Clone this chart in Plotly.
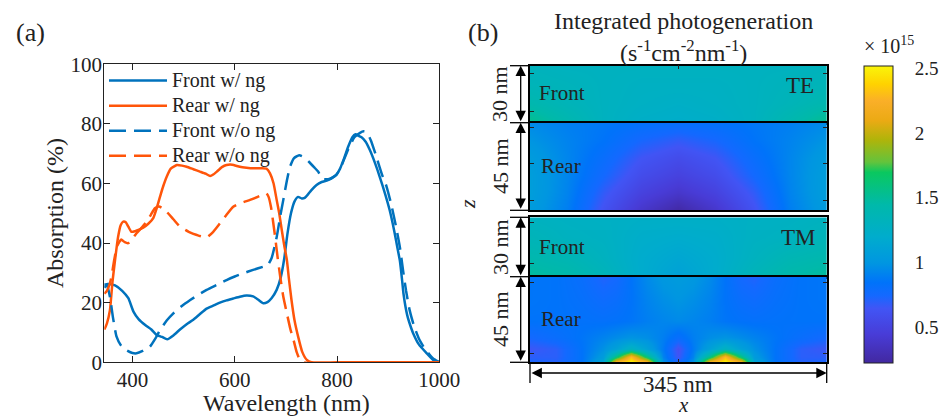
import plotly.graph_objects as go

W, H = 941, 417
def px(x): return x / W
def py(y): return 1 - y / H

FONT = "Liberation Serif"
INK = "#222222"
BLUE = "rgb(0,114,189)"
ORANGE = "rgb(255,85,10)"

# ---------------- Panel (a) data ----------------
front_ng_wl = [345, 352, 366, 380, 392, 402, 412, 425, 437, 447, 458, 468, 480, 493, 506, 519, 532, 545, 558,
               571, 584, 597, 610, 623, 636, 646, 656, 664, 672, 682, 690, 697, 703, 710, 717, 724, 731, 737,
               744, 750, 760, 770, 780, 790, 799, 806, 814, 822, 830, 836, 842, 848, 856, 864, 874, 884, 894,
               903, 912, 918, 923, 927, 930, 937, 945, 949, 960, 975, 988, 1000]
front_ng_abs = [26, 26.3, 25.8, 24, 21.5, 17, 14.5, 12.5, 11, 9.2, 8.5, 7.7, 9, 11, 12.8, 14.3, 16.2, 18, 19,
                20, 20.8, 21.4, 22, 22.4, 22.1, 21, 19.8, 20.2, 21.5, 24.3, 28.5, 35, 43, 50, 54, 55.5, 55, 55.2,
                56.5, 57.8, 59.5, 60.5, 61, 61.8, 63, 65, 68.5, 72.4, 75.5, 76.5, 76, 75.5, 74, 71.3, 67, 62, 56.5,
                51, 44, 38.5, 34, 28, 23, 16, 11.5, 9.7, 6, 3.1, 0.8, 0]

rear_ng_wl = [345, 350, 356, 361, 366, 372, 377, 382, 387, 392, 398, 405, 413, 421, 431, 441, 448, 454, 460,
              467, 475, 487, 497, 506, 519, 532, 543, 552, 558, 565, 575, 584, 595, 610, 623, 636, 650, 662,
              669, 676, 682, 687, 692, 697, 702, 706, 711, 717, 724, 732, 741, 750, 800, 900, 1000]
rear_ng_abs = [11, 13, 17.5, 27, 34.3, 42.1, 46, 47.2, 47, 45.5, 43.8, 44, 44.5, 45.2, 46.5, 48.5, 52, 55.6, 59,
               62.3, 65, 66.2, 66, 65.6, 64.8, 64, 63.3, 62.5, 63, 64, 65.5, 66.2, 66.3, 65.6, 65.3, 65.1, 65.1, 65,
               63.4, 60, 54.5, 50, 44.4, 39, 34.3, 28, 20.9, 14, 8.6, 3.5, 0.8, 0, 0, 0, 0]

front_wo_wl = [345, 350, 356, 362, 369, 378, 389, 400, 408, 420, 434, 445, 454, 467, 480, 496, 513, 530, 545,
               565, 584, 600, 617, 636, 656, 664, 672, 682, 689, 695, 702, 708, 716, 726, 734, 745, 755, 763,
               772, 785, 799, 810, 822, 834, 845, 852, 858, 866, 876, 888, 897, 906, 916, 923, 929, 935, 942,
               950, 960, 970, 980, 990, 1000]
front_wo_abs = [25, 26, 22, 15, 8.6, 5.5, 4, 3.1, 3, 3.8, 5.2, 8, 10.8, 14, 16.4, 18.8, 20.9, 22.8, 24.3,
                26, 27.6, 28.8, 29.9, 31, 32.1, 32.5, 34.9, 42, 49, 54.5, 61, 65.6, 68.5, 69.5, 69, 67.3, 65.5, 64,
                61.5, 61.5, 63, 66.5, 71.5, 75.5, 77, 77.5, 77.2, 74.5, 69.5, 63, 58.9, 53, 45, 38.5, 31, 24, 17.5,
                12.5, 8, 5, 2.8, 1, 0.1]

rear_wo_wl = [345, 350, 355, 359, 364, 370, 378, 385, 392, 400, 408, 418, 428, 436, 444, 452, 460, 467, 480,
              493, 510, 526, 545, 558, 571, 584, 597, 613, 630, 646, 656, 662, 666, 671, 679, 684, 689, 695,
              702, 709, 715, 721, 727, 735, 1000]
rear_wo_abs = [23, 24, 26, 28.7, 34, 39, 41.2, 40.3, 40, 41.5, 43.3, 45.2, 47.2, 49.5, 51.7, 52.3, 51.6, 50.5, 48,
               45.5, 43.8, 42.7, 41.9, 43.8, 46.6, 49.5, 52.2, 53.5, 54.5, 55.6, 56.4, 56.7, 55.6, 52, 42.1, 35,
               28.7, 22, 16.4, 11, 7.5, 3.5, 1, 0, 0]

wl_ticks = [400, 600, 800, 1000]
abs_ticks = [0, 20, 40, 60, 80, 100]
series_names = ["Front w/ ng", "Rear w/ ng", "Front w/o ng", "Rear w/o ng"]

# ---------------- Panel (b) data (x 1e15 s^-1 cm^-2 nm^-1) ----------------
grid_x = [0, 43.1, 86.3, 129.4, 172.5, 215.6, 258.8, 301.9, 345]
front_y = [45, 55, 65, 75]
rear_y = [0, 9, 18, 27, 36, 45]

te_front = [
    [1.55, 1.42, 1.30, 1.24, 1.22, 1.24, 1.30, 1.42, 1.55],
    [1.42, 1.35, 1.30, 1.27, 1.25, 1.27, 1.30, 1.35, 1.42],
    [1.35, 1.33, 1.30, 1.28, 1.28, 1.28, 1.30, 1.33, 1.35],
    [1.32, 1.30, 1.30, 1.30, 1.30, 1.30, 1.30, 1.30, 1.32],
]
te_rear = [
    [1.05, 0.90, 0.62, 0.40, 0.25, 0.40, 0.62, 0.90, 1.05],
    [1.07, 0.92, 0.68, 0.50, 0.40, 0.50, 0.68, 0.92, 1.07],
    [1.07, 0.93, 0.75, 0.58, 0.50, 0.58, 0.75, 0.93, 1.07],
    [1.05, 0.93, 0.80, 0.65, 0.58, 0.65, 0.80, 0.93, 1.05],
    [1.00, 0.92, 0.85, 0.74, 0.68, 0.74, 0.85, 0.92, 1.00],
    [0.95, 0.90, 0.87, 0.84, 0.82, 0.84, 0.87, 0.90, 0.95],
]
tm_front = [
    [1.50, 1.45, 1.35, 1.20, 1.10, 1.20, 1.35, 1.45, 1.50],
    [1.42, 1.38, 1.30, 1.20, 1.15, 1.20, 1.30, 1.38, 1.42],
    [1.35, 1.30, 1.28, 1.22, 1.20, 1.22, 1.28, 1.30, 1.35],
    [1.30, 1.28, 1.27, 1.25, 1.25, 1.25, 1.27, 1.28, 1.30],
]
tm_rear_x = [0, 30, 60, 85, 100, 118, 136, 155, 172.5, 190, 209, 227, 245, 260, 285, 315, 345]
tm_rear_y = [0, 3, 7, 13, 22, 33, 45]
tm_rear = [
    [0.75, 0.72, 0.85, 1.15, 2.35, 2.55, 2.35, 1.00, 0.75, 1.00, 2.35, 2.55, 2.35, 1.15, 0.85, 0.72, 0.75],
    [0.70, 0.70, 0.85, 1.05, 1.60, 2.30, 1.60, 0.92, 0.65, 0.92, 1.60, 2.30, 1.60, 1.05, 0.85, 0.70, 0.70],
    [0.66, 0.70, 0.85, 0.98, 1.10, 1.30, 1.10, 0.88, 0.62, 0.88, 1.10, 1.30, 1.10, 0.98, 0.85, 0.70, 0.66],
    [0.75, 0.80, 0.86, 0.92, 0.96, 1.00, 0.97, 0.90, 0.80, 0.90, 0.97, 1.00, 0.96, 0.92, 0.86, 0.80, 0.75],
    [0.85, 0.85, 0.84, 0.83, 0.84, 0.86, 0.90, 0.93, 0.95, 0.93, 0.90, 0.86, 0.84, 0.83, 0.84, 0.85, 0.85],
    [0.86, 0.85, 0.82, 0.78, 0.80, 0.85, 0.92, 0.97, 1.00, 0.97, 0.92, 0.85, 0.80, 0.78, 0.82, 0.85, 0.86],
    [0.86, 0.85, 0.80, 0.72, 0.75, 0.85, 0.95, 1.02, 1.05, 1.02, 0.95, 0.85, 0.75, 0.72, 0.80, 0.85, 0.86],
]
cbar_ticks = [0.5, 1, 1.5, 2, 2.5]
cbar_labels = ["0.5", "1", "1.5", "2", "2.5"]
cmin, cmax = 0.23, 2.52

# saturated parula-like colour stops (value, colour)
stop_vals = [0.23, 0.45, 0.65, 0.75, 0.85, 1.0, 1.2, 1.45, 1.7, 1.78, 1.95, 2.1, 2.25, 2.38, 2.52]
stop_cols = ["rgb(66,40,160)", "rgb(72,60,215)", "rgb(65,85,245)", "rgb(20,105,255)", "rgb(0,115,250)",
             "rgb(0,150,225)", "rgb(0,172,205)", "rgb(0,185,170)", "rgb(10,200,95)", "rgb(100,195,60)",
             "rgb(175,180,10)", "rgb(235,170,20)", "rgb(250,175,40)", "rgb(255,210,0)", "rgb(250,245,10)"]
colorscale = [[(v - cmin) / (cmax - cmin), c] for v, c in zip(stop_vals, stop_cols)]

fig = go.Figure()

dash = "17px,8px"
series = [(front_ng_wl, front_ng_abs, BLUE, "solid"), (rear_ng_wl, rear_ng_abs, ORANGE, "solid"),
          (front_wo_wl, front_wo_abs, BLUE, dash), (rear_wo_wl, rear_wo_abs, ORANGE, dash)]
for name, (xs, ys, col, ds) in zip(series_names, series):
    fig.add_trace(go.Scatter(x=xs, y=ys, mode="lines",
                             name='<span style="font-size:20px">%s</span>' % name,
                             line=dict(color=col, width=2.5, dash=ds, shape="spline", smoothing=0.5)))

hm = dict(coloraxis="coloraxis", zsmooth="best", hoverinfo="skip", showscale=False)
fig.add_trace(go.Heatmap(x=grid_x, y=front_y, z=te_front, xaxis="x2", yaxis="y2", **hm))
fig.add_trace(go.Heatmap(x=grid_x, y=rear_y, z=te_rear, xaxis="x3", yaxis="y3", **hm))
fig.add_trace(go.Heatmap(x=grid_x, y=front_y, z=tm_front, xaxis="x4", yaxis="y4", **hm))
fig.add_trace(go.Heatmap(x=tm_rear_x, y=tm_rear_y, z=tm_rear, xaxis="x5", yaxis="y5", **hm))

axcommon = dict(showline=True, linecolor=INK, linewidth=1, mirror="ticks", ticks="inside",
                tickcolor=INK, ticklen=6, showgrid=False, zeroline=False,
                tickfont=dict(family=FONT, size=21, color=INK))
hmx = dict(range=[0, 345], showline=True, linecolor="black", linewidth=1.5, mirror=True, showgrid=False,
           zeroline=False, showticklabels=False, ticks="", tickcolor=INK, ticklen=4)
hmy = dict(showline=True, linecolor="black", linewidth=1.5, mirror="ticks", showgrid=False, zeroline=False,
           showticklabels=False, ticks="inside", tickcolor=INK, ticklen=4)

x_left, x_right = px(530), px(826.7)
fig.update_layout(
    width=W, height=H, margin=dict(l=0, r=0, t=0, b=0, autoexpand=False),
    paper_bgcolor="white", plot_bgcolor="white",
    font=dict(family=FONT, color=INK),
    xaxis=dict(domain=[px(104.3), px(439.3)], range=[345, 1000], tickvals=wl_ticks, anchor="y",
               ticklabelstandoff=-2, **axcommon),
    yaxis=dict(domain=[py(362.3), py(64.3)], range=[0, 100], tickvals=abs_ticks, anchor="x",
               ticklabelstandoff=-3, **axcommon),
    xaxis2=dict(domain=[x_left, x_right], anchor="y2", side="top", **{**hmx, "ticks": "inside", "tickvals": [172.5]}),
    yaxis2=dict(domain=[py(122.7), py(65.7)], range=[45, 75], anchor="x2", tickvals=[51, 71], **hmy),
    xaxis3=dict(domain=[x_left, x_right], anchor="y3", **hmx),
    yaxis3=dict(domain=[py(210.3), py(122.7)], range=[0, 45], anchor="x3", tickvals=[5, 24, 42.5], **hmy),
    xaxis4=dict(domain=[x_left, x_right], anchor="y4", **hmx),
    yaxis4=dict(domain=[py(276.7), py(217.3)], range=[45, 75], anchor="x4", tickvals=[51.5, 72.5], **hmy),
    xaxis5=dict(domain=[x_left, x_right], anchor="y5", **{**hmx, "ticks": "inside", "tickvals": [172.5]}),
    yaxis5=dict(domain=[py(362.3), py(276.7)], range=[0, 45], anchor="x5", tickvals=[4.5, 42.2], **hmy),
    coloraxis=dict(cmin=cmin, cmax=cmax, colorscale=colorscale,
                   colorbar=dict(x=px(864), xanchor="left", y=py(214), yanchor="middle",
                                 len=296.6, lenmode="pixels", thickness=29, thicknessmode="pixels",
                                 outlinewidth=1, outlinecolor=INK, xpad=0, ypad=0,
                                 ticks="outside", ticklen=18, tickcolor="rgba(0,0,0,0)", tickvals=cbar_ticks,
                                 ticktext=cbar_labels,
                                 tickfont=dict(family=FONT, size=19, color=INK))),
    legend=dict(x=px(104), y=py(63), xanchor="left", yanchor="top", bgcolor="rgba(0,0,0,0)",
                font=dict(family=FONT, size=17, color=INK), itemwidth=58, tracegroupgap=0),
    showlegend=True,
)

ann = []
def text(x, y, s, size, xanchor="center", angle=0, yanchor="middle"):
    ann.append(dict(x=px(x), y=py(y), xref="paper", yref="paper", text=s, showarrow=False,
                    xanchor=xanchor, yanchor=yanchor, textangle=angle,
                    font=dict(family=FONT, size=size, color=INK)))

text(30, 33, "(a)", 26)
text(483, 33, "(b)", 26)
text(55, 213, "Absorption (%)", 24, angle=-90)
text(286, 403, "Wavelength (nm)", 24)
text(683, 21, "Integrated photogeneration", 24)
text(683, 51, "(s<sup>-1</sup>cm<sup>-2</sup>nm<sup>-1</sup>)", 24)
text(862, 45, "× 10<sup>15</sup>", 20, xanchor="left")
for yy, lab in [(93, "Front"), (247, "Front")]:
    text(537, yy, lab, 21, xanchor="left")
for yy, lab in [(166, "Rear"), (319, "Rear")]:
    text(539, yy, lab, 21, xanchor="left")
text(816, 85, "TE", 23, xanchor="right")
text(818, 237, "TM", 23, xanchor="right")
for yy, lab in [(94, "30 nm"), (166, "45 nm"), (247, "30 nm"), (319, "45 nm")]:
    text(500, yy, lab, 22, angle=-90)
text(678, 384, "345 nm", 23)
text(683, 405, "<i>x</i>", 21)
text(467, 204, "<i>z</i>", 22, angle=-90)

arrow = dict(xref="paper", yref="paper", axref="pixel", ayref="pixel", text="", showarrow=True,
             arrowhead=2, startarrowhead=2, arrowside="end+start", arrowsize=1.6, startarrowsize=1.6,
             arrowwidth=1.3, arrowcolor="black", standoff=0, startstandoff=0)
for top, bot in [(65.7, 122.7), (122.7, 210.3), (217.3, 276.7), (276.7, 362.3)]:
    ann.append(dict(x=px(520.7), y=py(top), ax=0, ay=bot - top, **arrow))
ann.append(dict(x=px(826.7), y=py(373), ax=-(826.7 - 530), ay=0, **arrow))
fig.update_layout(annotations=ann)

shapes = []
for yy in [65.7, 122.7, 210.3, 217.3, 276.7, 362.3]:
    shapes.append(dict(type="line", xref="paper", yref="paper", x0=px(510), x1=px(530), y0=py(yy), y1=py(yy),
                       line=dict(color="black", width=1.3)))
for xx in [530, 826.7]:
    shapes.append(dict(type="line", xref="paper", yref="paper", x0=px(xx), x1=px(xx), y0=py(363), y1=py(383),
                       line=dict(color="black", width=1.3)))
fig.update_layout(shapes=shapes)

fig.write_html("out.html", config={"displayModeBar": False},
               post_script="document.body.style.margin='0';")
